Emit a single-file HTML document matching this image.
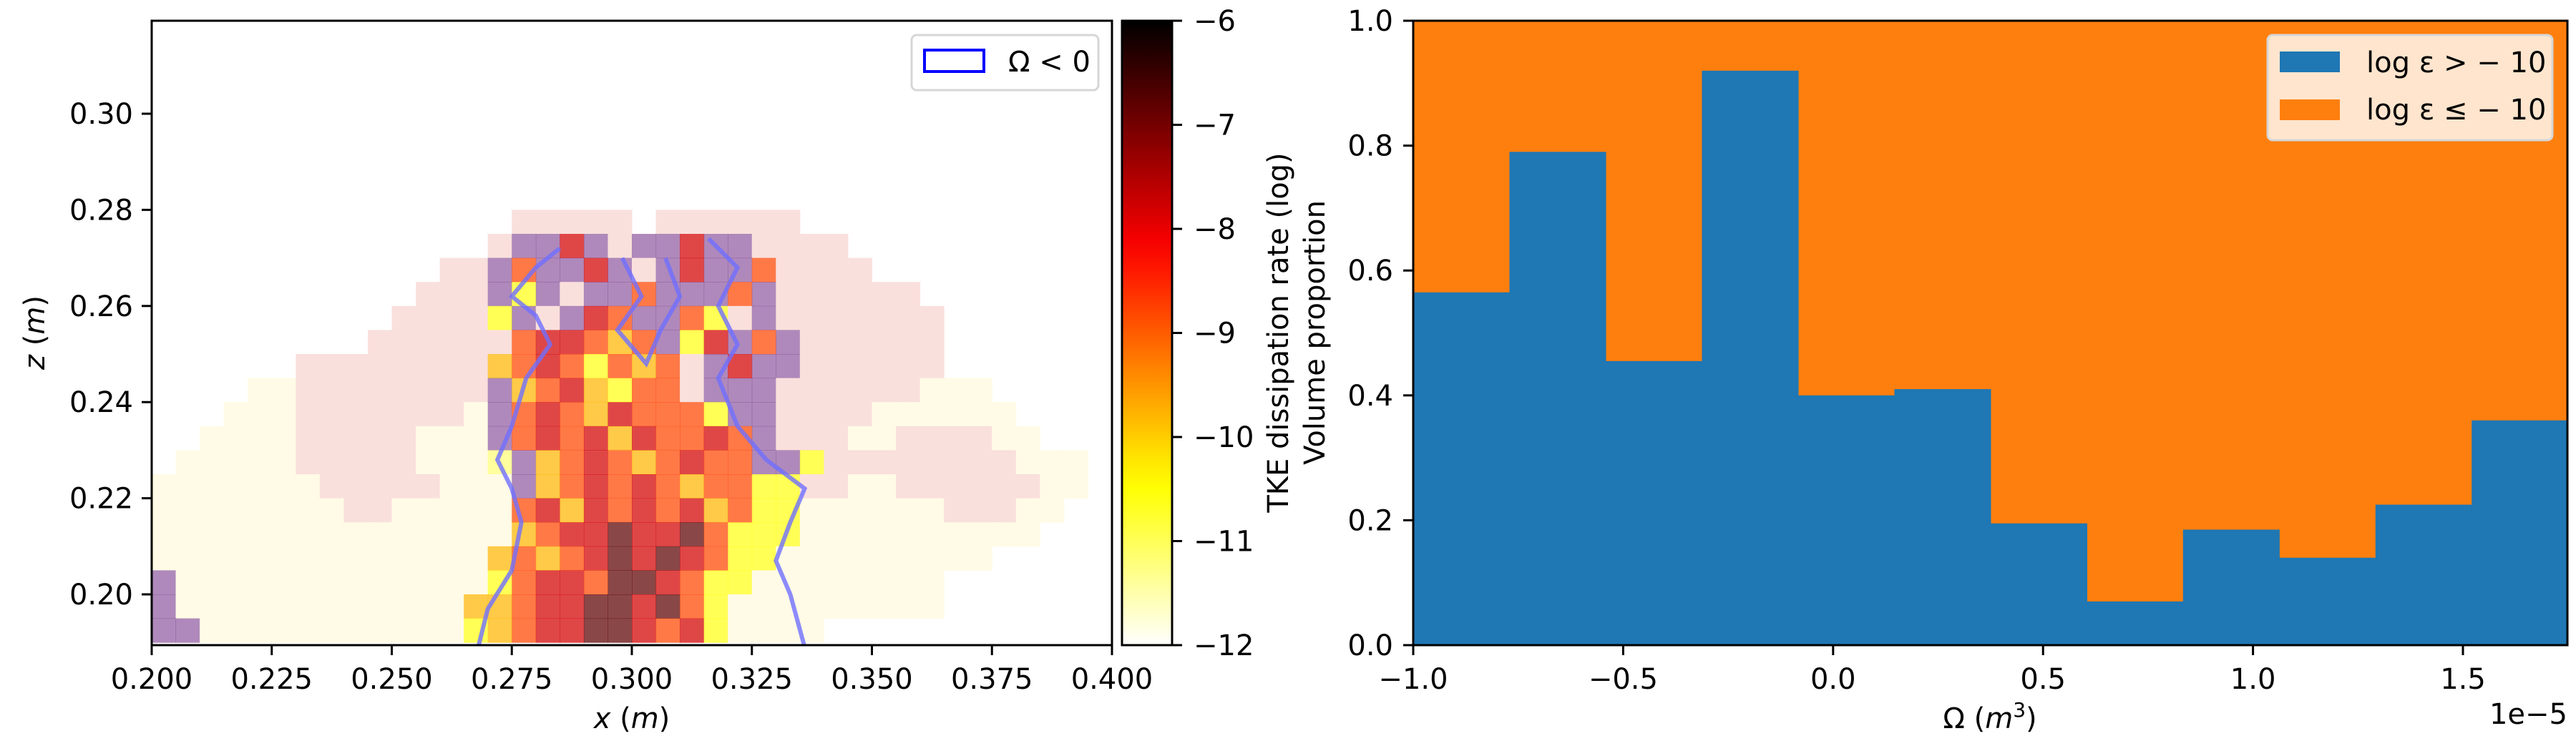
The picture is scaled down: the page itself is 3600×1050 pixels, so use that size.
<!DOCTYPE html>
<html><head><meta charset="utf-8">
<style>
html,body{margin:0;padding:0;background:#fff;}
svg{display:block;font-family:"DejaVu Sans","Liberation Sans",sans-serif;}
</style></head>
<body>
<svg id="fig" width="3600" height="1050" viewBox="0 0 3600 1050" xmlns="http://www.w3.org/2000/svg">
  <rect width="3600" height="1050" fill="#fff"/>
  <defs>
    <linearGradient id="cmap" x1="0" y1="1" x2="0" y2="0"></linearGradient>
    <clipPath id="clipL"><rect x="212" y="29" width="1342" height="873"/></clipPath>
  </defs>
  <g id="heat" clip-path="url(#clipL)"></g>
  <g id="contours" clip-path="url(#clipL)"></g>
  <g id="axesL"></g>
  <g id="cbar"></g>
  <g id="bars"></g>
  <g id="axesR"></g>
</svg>
<script>
// ---------- data: left heatmap (rows from top z=0.32 downward, each row 0.005 in z; cols 0.005 in x from 0.2)
const heatRows = [
"........................................",
"........................................",
"........................................",
"........................................",
"........................................",
"........................................",
"........................................",
"........................................",
"...............ppppp.pppppp.............",
"..............pvvRvpvvRvvpppp...........",
"............ppvrvvRvpvRvvrpppp..........",
"...........pppvYvpvvrvvvrvpppppp........",
"..........ppppYvpvRrvvrYpvppppppp.......",
".........pppppprRRrorvYRvrvpppppp.......",
"......pppppppporRrYrorpvRvvpppppp.......",
"....wwppppppppvorRoYrrpvvvppppppwww.....",
"...wwwpppppppwvrRroRrrrYvvppppwwwwww....",
"..wwwwpppppwwwvrRrRoRrrRrvpppwwppppww...",
".wwwwwpppppwwwyvorRrorRrrvvYppppppppwww.",
"wwwwwwwpppppwwwvorRrRrorrYYppwwppppppww.",
"wwwwwwwwppwwwwwrRoRrRrRorYYwwwwwwpppww..",
"wwwwwwwwwwwwwwworRRkRRkrYYYwwwwwwwwww...",
"wwwwwwwwwwwwwwororRkRkRrYYwwwwwwwww.....",
"vwwwwwwwwwwwwwYrRRrkkRrYYwwwwwwww.......",
"vwwwwwwwwwwwwoorRRkkRkrYwwwwwwwww.......",
"vvwwwwwwwwwwwYorRRkkRrRYwwww............"
];
const heatLevels = {w:-11.9,y:-11.2,Y:-10.6,o:-9.8,r:-8.8,R:-7.8,k:-6.8};
const contourLeft = [[0.268,0.189],[0.27,0.197],[0.275,0.205],[0.277,0.215],[0.275,0.222],[0.272,0.228],[0.275,0.235],[0.278,0.245],[0.283,0.252],[0.28,0.258],[0.275,0.262],[0.28,0.268],[0.285,0.272]];
const contourRight = [[0.336,0.189],[0.333,0.2],[0.33,0.207],[0.333,0.215],[0.336,0.222],[0.328,0.228],[0.322,0.235],[0.318,0.245],[0.322,0.252],[0.318,0.26],[0.322,0.268],[0.316,0.274]];
const contourInner = [[0.298,0.27],[0.302,0.262],[0.297,0.255],[0.303,0.248],[0.306,0.255],[0.31,0.262],[0.307,0.27]];
const xTicksL = [0.200,0.225,0.250,0.275,0.300,0.325,0.350,0.375,0.400];
const zTicksL = [0.20,0.22,0.24,0.26,0.28,0.30];
const cbTicks = [-6,-7,-8,-9,-10,-11,-12];
// ---------- data: right histogram
const binEdges = [-1.0,-0.7708,-0.5417,-0.3125,-0.0833,0.1458,0.375,0.6042,0.8333,1.0625,1.2917,1.5208,1.75];
const highShare = [0.565,0.79,0.455,0.92,0.40,0.41,0.195,0.07,0.185,0.14,0.225,0.36];
const xTicksR = [-1.0,-0.5,0.0,0.5,1.0,1.5];
const yTicksR = [0.0,0.2,0.4,0.6,0.8,1.0];

const NS="http://www.w3.org/2000/svg";
function mk(tag,attrs,parent){const e=document.createElementNS(NS,tag);for(const k in attrs)e.setAttribute(k,attrs[k]);parent.appendChild(e);return e;}
function txt(parent,x,y,s,anchor,size){const t=mk('text',{x:x,y:y,'text-anchor':anchor||'middle','font-size':size||40,fill:'#000'},parent);t.textContent=s;return t;}

const XL=x=>212+(x-0.2)/0.2*1342;
const ZL=z=>831-(z-0.2)/0.02*134.4;
const XR=v=>1975+(v+1)*586.8;
const YR=p=>902-p*873;

function hotr(v){
  let t=(v+12)/6; t=Math.max(0,Math.min(1,t)); const s=1-t;
  const r=Math.min(1,s/0.365), g=Math.max(0,Math.min(1,(s-0.365)/0.375)), b=Math.max(0,Math.min(1,(s-0.746)/0.254));
  return `rgb(${Math.round(r*255)},${Math.round(g*255)},${Math.round(b*255)})`;
}

const heat=document.getElementById('heat');
heatRows.forEach((row,j)=>{
  const zTop=0.32-0.005*j, zBot=zTop-0.005;
  for(let i=0;i<row.length;i++){
    const c=row[i]; if(c==='.')continue;
    let fill, op=0.72;
    if(c==='p'){fill='#f9e0dc';op=1;} else if(c==='v'){fill='#7a3a8e';op=0.6;} else if(c==='w'){fill='#fffbe6';op=1;} else fill=hotr(heatLevels[c]);
    const x0=XL(0.2+0.005*i), x1=XL(0.2+0.005*(i+1));
    const cell=mk('rect',{x:x0,y:ZL(zTop),width:x1-x0+0.5,height:ZL(zBot)-ZL(zTop)+0.5,fill:fill,'fill-opacity':op},heat);
    
    
  }
});
const cg=document.getElementById('contours');
[contourLeft,contourRight,contourInner].forEach(pts=>{
  const pl=mk('polyline',{points:pts.map(p=>XL(p[0])+','+ZL(p[1])).join(' '),fill:'none',stroke:'#6f6fff','stroke-width':6,'stroke-opacity':0.8},cg);
  
  
});

const aL=document.getElementById('axesL');
mk('rect',{x:212,y:29,width:1342,height:873,fill:'none',stroke:'#000','stroke-width':3},aL);
xTicksL.forEach(v=>{mk('line',{x1:XL(v),x2:XL(v),y1:902,y2:916,stroke:'#000','stroke-width':3},aL);
  const t=txt(aL,XL(v),963,v.toFixed(3));});
zTicksL.forEach(v=>{mk('line',{x1:198,x2:212,y1:ZL(v),y2:ZL(v),stroke:'#000','stroke-width':3},aL);
  const t=txt(aL,186,ZL(v)+14,v.toFixed(2),'end');});
const xl=txt(aL,883,1018,'');xl.innerHTML='<tspan font-style="italic">x</tspan> (<tspan font-style="italic">m</tspan>)';

const zl=txt(aL,0,0,'');zl.setAttribute('transform','translate(62,465) rotate(-90)');zl.innerHTML='<tspan font-style="italic">z</tspan> (<tspan font-style="italic">m</tspan>)';

const lgL=mk('g',{},aL);
mk('rect',{x:1274,y:49,width:261,height:77,rx:7,fill:'#fff','fill-opacity':0.8,stroke:'#d6d6d6','stroke-width':3},lgL);
mk('rect',{x:1292,y:70,width:83,height:30,fill:'none',stroke:'#0000ff','stroke-width':4},lgL);
txt(lgL,1409,100,'Ω < 0','start');

const grad=document.getElementById('cmap');
for(let k=0;k<=20;k++){mk('stop',{offset:(k/20),'stop-color':hotr(-12+6*k/20)},grad);}
const cb=document.getElementById('cbar');
mk('rect',{x:1568,y:29,width:70,height:873,fill:'url(#cmap)',stroke:'#000','stroke-width':3},cb);
const CB=v=>902-(v+12)/6*873;
cbTicks.forEach(v=>{mk('line',{x1:1638,x2:1652,y1:CB(v),y2:CB(v),stroke:'#000','stroke-width':3},cb);
  const t=txt(cb,1668,CB(v)+14,'−'+Math.abs(v),'start');});
const cbl=txt(cb,0,0,'TKE dissipation rate (log)');cbl.setAttribute('transform','translate(1800,465) rotate(-90)');


const bg=document.getElementById('bars');
mk('rect',{x:1975,y:29,width:1613,height:873,fill:'#ff7f0e'},bg);
highShare.forEach((h,i)=>{
  const x0=XR(binEdges[i]),x1=XR(binEdges[i+1]);
  const b=mk('rect',{x:x0,y:YR(h),width:x1-x0+0.6,height:YR(0)-YR(h),fill:'#1f77b4'},bg);
  
  
});
const aR=document.getElementById('axesR');
mk('rect',{x:1975,y:29,width:1613,height:873,fill:'none',stroke:'#000','stroke-width':3},aR);
xTicksR.forEach(v=>{mk('line',{x1:XR(v),x2:XR(v),y1:902,y2:916,stroke:'#000','stroke-width':3},aR);
  const t=txt(aR,XR(v),963,(v<0?'−':'')+Math.abs(v).toFixed(1));});
yTicksR.forEach(v=>{mk('line',{x1:1961,x2:1975,y1:YR(v),y2:YR(v),stroke:'#000','stroke-width':3},aR);
  const t=txt(aR,1947,YR(v)+14,v.toFixed(1),'end');});
const xr=txt(aR,2781,1018,'');xr.innerHTML='Ω (<tspan font-style="italic">m</tspan><tspan dy="-16" font-size="28">3</tspan><tspan dy="16">)</tspan>';

const off=txt(aR,3588,1012,'1e−5','end');
const yr=txt(aR,0,0,'Volume proportion');yr.setAttribute('transform','translate(1851,465) rotate(-90)');

const lgR=mk('g',{},aR);
mk('rect',{x:3169,y:49,width:398,height:147,rx:7,fill:'#fff','fill-opacity':0.8,stroke:'#d6d6d6','stroke-width':3},lgR);
mk('rect',{x:3186,y:72,width:84,height:29,fill:'#1f77b4'},lgR);
mk('rect',{x:3186,y:139,width:84,height:29,fill:'#ff7f0e'},lgR);
txt(lgR,3307,101,'log ε > − 10','start');
txt(lgR,3307,167,'log ε ≤ − 10','start');
</script>
</body></html>
